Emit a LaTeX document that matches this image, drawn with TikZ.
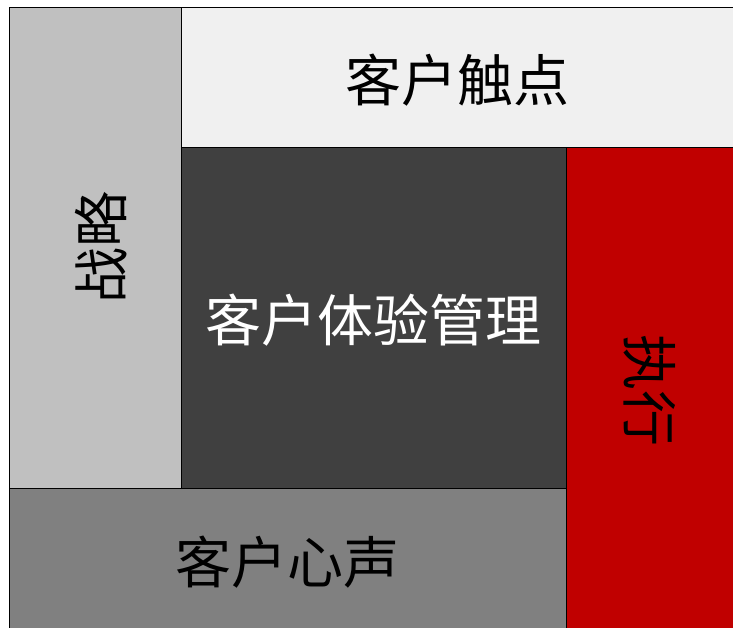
\documentclass[tikz,border=0pt]{standalone}
\usepackage{fontspec}
\newfontfamily\cjk{Noto Sans CJK SC}
\definecolor{cStrat}{HTML}{C0C0C0}
\definecolor{cTouch}{HTML}{F0F0F0}
\definecolor{cCem}{HTML}{404040}
\definecolor{cExec}{HTML}{C00000}
\definecolor{cVoice}{HTML}{808080}
\begin{document}
\begin{tikzpicture}[x=1pt,y=-1pt,
  blk/.style={draw=black,line width=0.8pt,inner sep=0pt,outer sep=0pt,anchor=north west},
  lbl/.style={inner sep=0pt,font=\cjk\fontsize{56}{64}\selectfont}]
\useasboundingbox[fill=white] (0,0) rectangle (733,628);
\node[blk,fill=cStrat,minimum width=172pt,minimum height=481pt] (strat) at (9,7) {};
\node[blk,fill=cTouch,minimum width=553pt,minimum height=140pt] (touch) at (181,7) {};
\node[blk,fill=cCem,minimum width=385pt,minimum height=341pt] (cem) at (181,147) {};
\node[blk,fill=cExec,minimum width=168pt,minimum height=482pt] (exec) at (566,147) {};
\node[blk,fill=cVoice,minimum width=557pt,minimum height=141pt] (voice) at (9,488) {};
\node[lbl,rotate=90] (tStrat) at ([xshift=6pt]strat.center) {战略};
\node[lbl] (tTouch) at ([yshift=-3pt]touch.center) {客户触点};
\node[lbl,text=white] (tCem) at ([yshift=-3pt]cem.center) {客户体验管理};
\node[lbl,rotate=-90] (tExec) at ([yshift=-2pt]exec.center) {执行};
\node[lbl] (tVoice) at ([yshift=-4pt]voice.center) {客户心声};
\end{tikzpicture}
\end{document}
